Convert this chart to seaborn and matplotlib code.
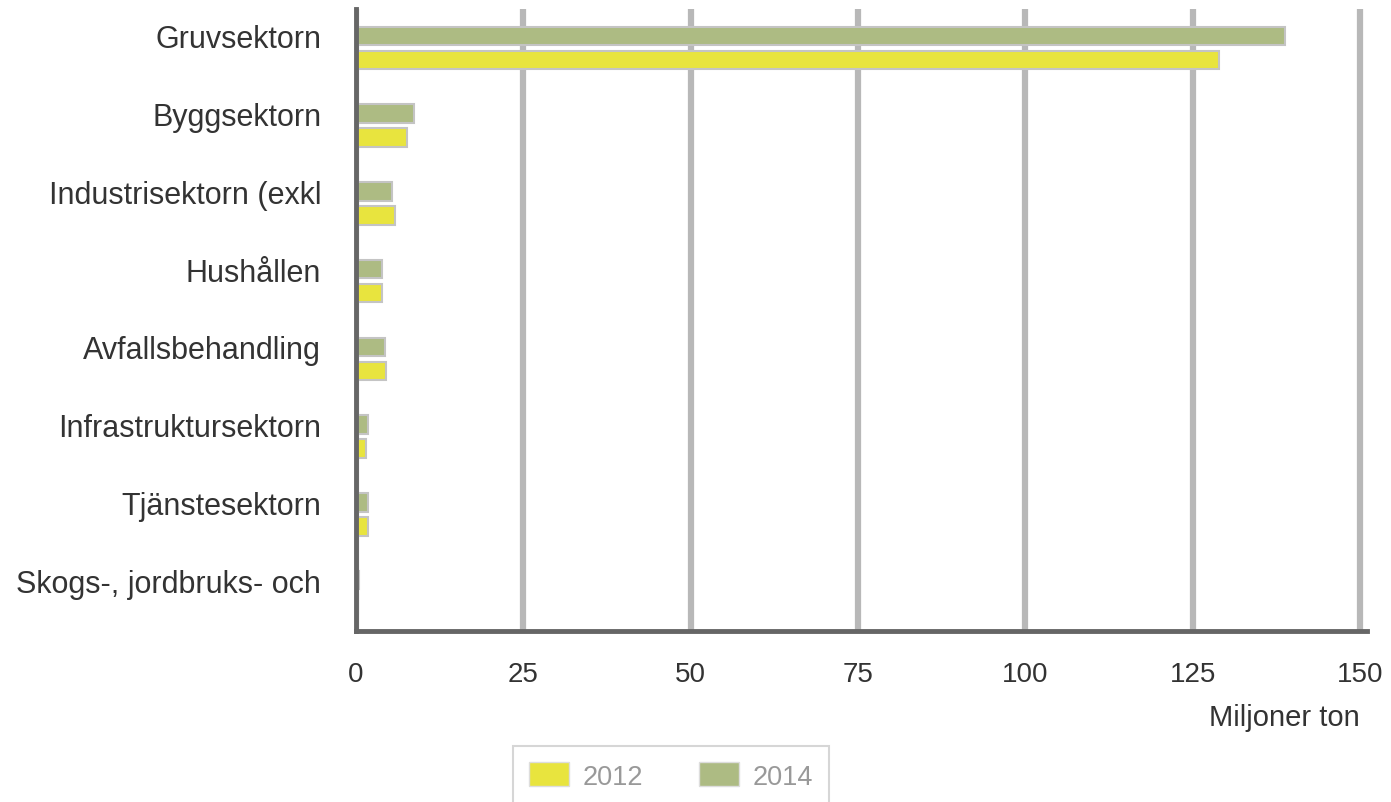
import matplotlib
matplotlib.use("Agg")
import matplotlib.pyplot as plt
import matplotlib.transforms as mtransforms
from matplotlib.patches import Patch
import seaborn as sns
import pandas as pd

sectors = ["Gruvsektorn", "Byggsektorn", "Industrisektorn (exkl", "Hushållen",
           "Avfallsbehandling", "Infrastruktursektorn", "Tjänstesektorn",
           "Skogs-, jordbruks- och"]
values_2012 = [128.9, 7.6, 5.8, 3.9, 4.5, 1.5, 1.8, 0.3]
values_2014 = [138.8, 8.7, 5.4, 3.9, 4.3, 1.8, 1.8, 0.4]
years = ["2014", "2012"]
xticks = [0, 25, 50, 75, 100, 125, 150]

yellow = "#e8e43e"
green = "#adbb83"

df = pd.DataFrame({
    "sektor": sectors * 2,
    "ton": values_2014 + values_2012,
    "ar": ["2014"] * len(sectors) + ["2012"] * len(sectors),
})

sns.set_theme(style="white")
plt.rcParams["font.family"] = ["Liberation Sans", "DejaVu Sans"]

fig = plt.figure(figsize=(13.91, 8.03), dpi=100)
ax = fig.add_axes([356 / 1391, 1 - 632 / 803, (1366.7 - 356) / 1391, 622 / 803])

sns.barplot(data=df, x="ton", y="sektor", hue="ar", hue_order=years,
            palette={"2014": green, "2012": yellow}, order=sectors,
            saturation=1, width=0.615, gap=0.22, edgecolor="#c4c4c4",
            linewidth=1.5, legend=False, ax=ax)

ax.set_xlim(0, 151)
ax.set_ylim(7.5, -0.5)
ax.set_xticks(xticks)
ax.set_xticklabels([str(t) for t in xticks])
ax.set_axisbelow(True)
ax.grid(axis="x", color="#b8b8b8", linewidth=4.5)
ax.grid(axis="y", visible=False)

for side in ["top", "right"]:
    ax.spines[side].set_visible(False)
for side in ["left", "bottom"]:
    ax.spines[side].set_color("#666666")
    ax.spines[side].set_linewidth(3.5)

ax.tick_params(axis="x", length=0, pad=21.5, labelsize=20, labelcolor="#333333")
ax.tick_params(axis="y", length=0, pad=25, labelsize=22, labelcolor="#333333")
ax.set_xlabel("")
ax.set_ylabel("")

# labels sit a bit above the category centre
offset = mtransforms.ScaledTranslation(0, 12 / 100, fig.dpi_scale_trans)
for lab in ax.get_yticklabels():
    lab.set_transform(lab.get_transform() + offset)

fig.text(1360 / 1391, 1 - 718 / 803, "Miljoner ton", ha="right", va="center",
         fontsize=21, color="#333333")

handles = [Patch(facecolor=yellow, edgecolor="#dddddd", label="2012"),
           Patch(facecolor=green, edgecolor="#dddddd", label="2014")]
leg = fig.legend(handles=handles, ncol=2, loc="upper left",
                 bbox_to_anchor=(513 / 1391, 1 - 747 / 803, 316 / 1391, 0),
                 mode="expand", frameon=True, fancybox=False, fontsize=19.5,
                 handlelength=1.48, handleheight=1.0, borderpad=0.6,
                 borderaxespad=0, columnspacing=1.6, handletextpad=0.48)
leg.get_frame().set_edgecolor("#cccccc")
leg.get_frame().set_linewidth(1.5)
for t in leg.get_texts():
    t.set_color("#999999")

fig.savefig("out.png", dpi=100)
